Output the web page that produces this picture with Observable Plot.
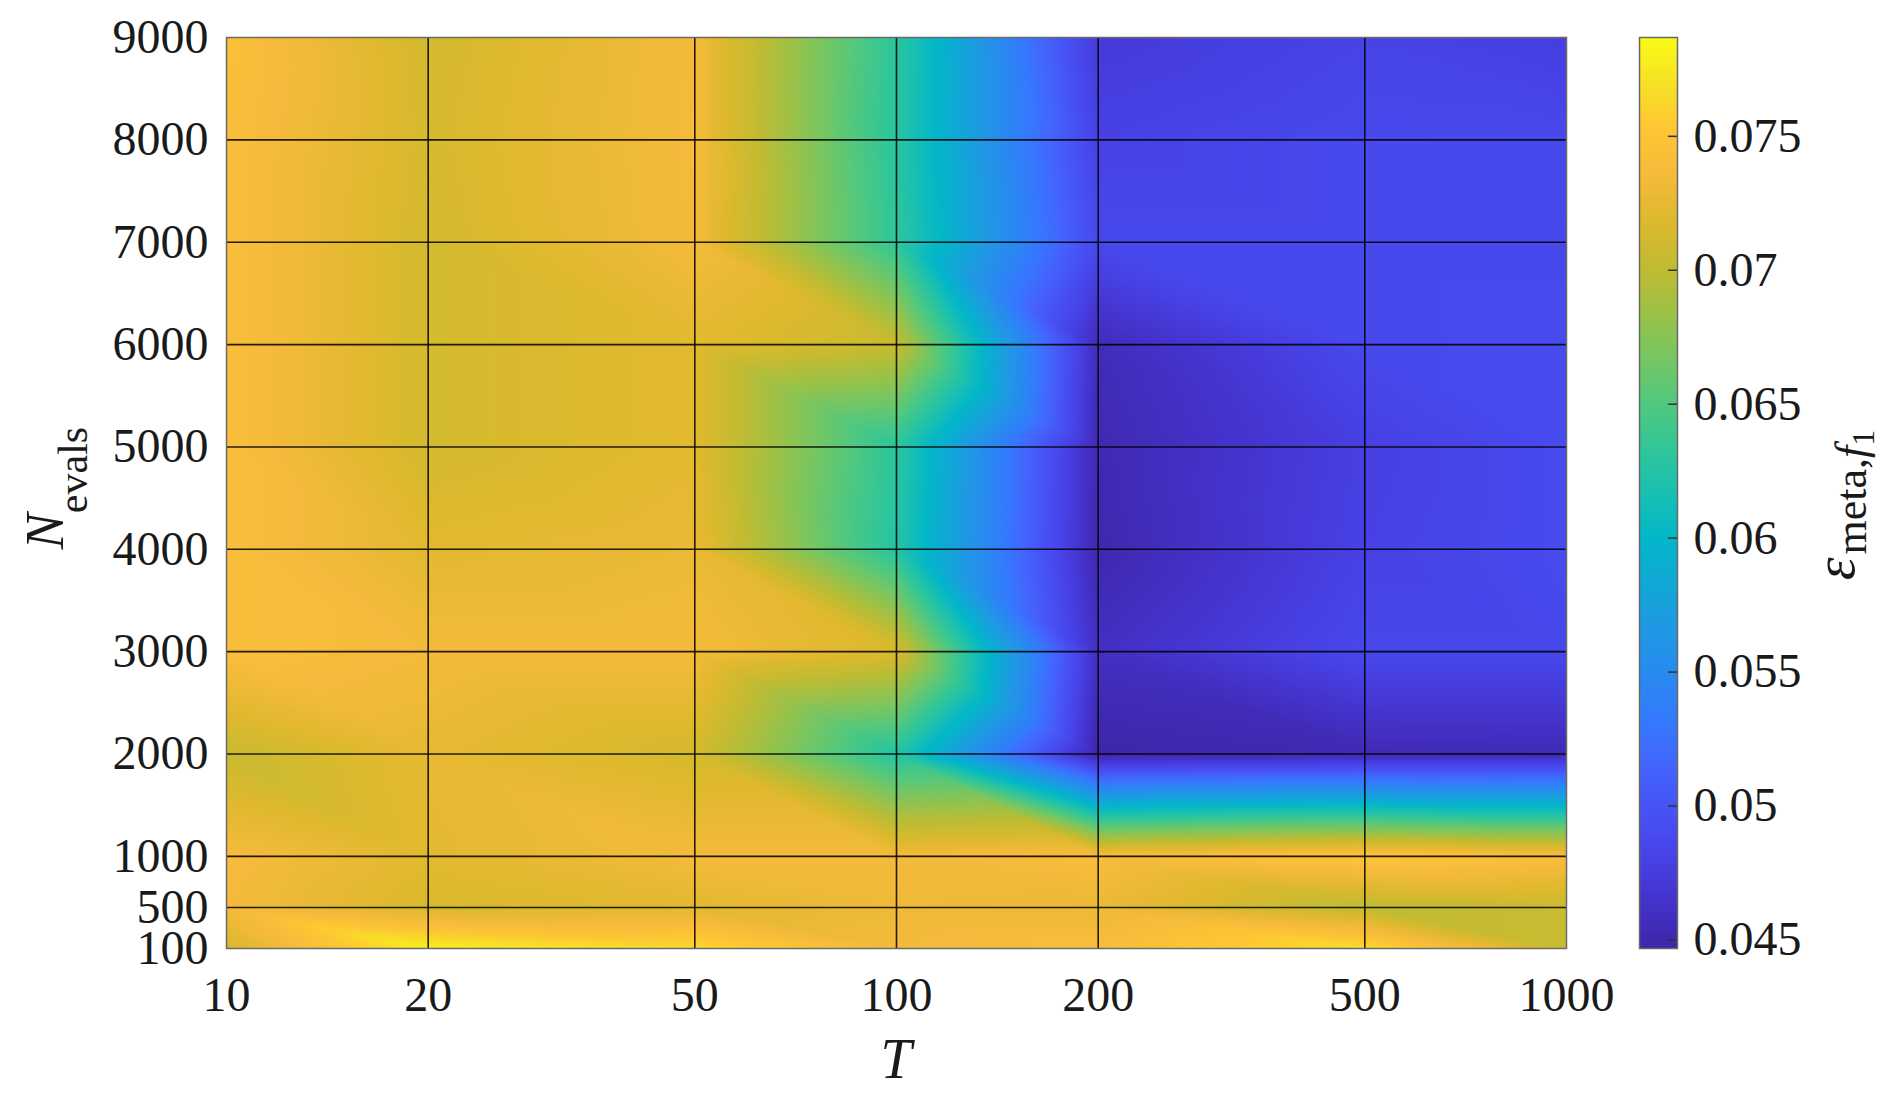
<!DOCTYPE html>
<html><head><meta charset="utf-8">
<script src="https://cdn.jsdelivr.net/npm/d3@7"></script>
<script src="https://cdn.jsdelivr.net/npm/@observablehq/plot@0.6"></script>
<style>
body{margin:0;background:#fff;}
#wrap{position:relative;width:1892px;height:1100px;overflow:hidden;background:#fff;}
#wrap svg{position:absolute;top:0;overflow:visible;}
</style></head><body><div id="wrap"></div>
<script>
// ---- data ----
const T = [10, 20, 50, 100, 200, 500, 1000];
const N = [100, 500, 1000, 2000, 3000, 4000, 5000, 6000, 7000, 8000, 9000];
const xTicks = [10, 20, 50, 100, 200, 500, 1000];
const yTicks = [100, 500, 1000, 2000, 3000, 4000, 5000, 6000, 7000, 8000, 9000];
const cbTicks = [0.045, 0.05, 0.055, 0.06, 0.065, 0.07, 0.075];
const cbDomain = [0.04468, 0.07869];
// error values, one row per N (bottom to top), columns follow T
const eps100  = [0.0715, 0.0780, 0.0765, 0.0735, 0.0742, 0.0768, 0.0705];
const eps500  = [0.0735, 0.0715, 0.0722, 0.0730, 0.0728, 0.0700, 0.0705];
const eps1000 = [0.0738, 0.0722, 0.0735, 0.0735, 0.0740, 0.0752, 0.0742];
const eps2000 = [0.0705, 0.0725, 0.0713, 0.0625, 0.0447, 0.0452, 0.0453];
const eps3000 = [0.0742, 0.0735, 0.0735, 0.0717, 0.0460, 0.0487, 0.0487];
const eps4000 = [0.0742, 0.0722, 0.0728, 0.0625, 0.0450, 0.0480, 0.0490];
const eps5000 = [0.0742, 0.0712, 0.0722, 0.0630, 0.0452, 0.0478, 0.0490];
const eps6000 = [0.0742, 0.0712, 0.0722, 0.0705, 0.0456, 0.0488, 0.0490];
const eps7000 = [0.0742, 0.0712, 0.0735, 0.0632, 0.0488, 0.0488, 0.0488];
const eps8000 = [0.0742, 0.0714, 0.0736, 0.0628, 0.0480, 0.0488, 0.0487];
const eps9000 = [0.0745, 0.0712, 0.0735, 0.0630, 0.0472, 0.0482, 0.0476];
const rows = [eps100, eps500, eps1000, eps2000, eps3000, eps4000, eps5000, eps6000, eps7000, eps8000, eps9000];

// parula-like colormap stops
const parula = ["#3e26a8","#4432ca","#4742e6","#4752f4","#4465fd","#347afd","#288af0","#2098e4","#10a8d6","#03b7c8",
  "#19c0b2","#32c698","#52c87e","#78c661","#9ec146","#c3bb32","#deb92d","#f6ba3c","#fec634","#f7e126","#f9fb15"];
const colorScale = {type: "linear", domain: cbDomain, interpolate: d3.piecewise(d3.interpolateRgb, parula), clamp: true};

// triangle (Gouraud-like) interpolation on the grid, in log-T / linear-N space
const LT = T.map(Math.log10);
function seg(arr, v) {
  let i = 0;
  while (i < arr.length - 2 && v > arr[i + 1]) i++;
  return i;
}
function interp(x, y) {
  const u = Math.log10(x);
  const i = seg(LT, u), j = seg(N, y);
  const s = Math.max(0, Math.min(1, (u - LT[i]) / (LT[i + 1] - LT[i])));
  const t = Math.max(0, Math.min(1, (y - N[j]) / (N[j + 1] - N[j])));
  const v00 = rows[j][i], v10 = rows[j][i + 1], v01 = rows[j + 1][i], v11 = rows[j + 1][i + 1];
  if (s + t <= 1) return v00 + s * (v10 - v00) + t * (v01 - v00);
  return v11 + (1 - s) * (v01 - v11) + (1 - t) * (v10 - v11);
}

const FONT = "'Liberation Serif', 'Times New Roman', serif";
const wrap = document.getElementById("wrap");

const main = Plot.plot({
  width: 1640, height: 1100,
  marginLeft: 226, marginRight: 74, marginTop: 37, marginBottom: 152,
  style: {fontFamily: FONT, fontSize: "48px", color: "#1a1a1a", background: "transparent", overflow: "visible"},
  x: {type: "log", domain: [10, 1000], label: null},
  y: {domain: [100, 9000], label: null},
  color: colorScale,
  marks: [
    Plot.raster({x1: 10, x2: 1000, y1: 100, y2: 9000, fill: (x, y) => interp(x, y)}),
    Plot.ruleX(T.slice(1, -1), {stroke: "#000", strokeWidth: 1.6, strokeOpacity: 0.85}),
    Plot.ruleY(N.slice(1, -1), {stroke: "#000", strokeWidth: 1.6, strokeOpacity: 0.85}),
    Plot.frame({stroke: "#6a6a6a", strokeWidth: 1.5}),
    Plot.axisX({ticks: xTicks, tickFormat: d => String(d), tickSize: 0, tickPadding: 28}),
    Plot.axisY({ticks: yTicks, tickFormat: d => String(d), tickSize: 0, tickPadding: 18})
  ]
});
main.style.left = "0px";
wrap.appendChild(main);

const cb = Plot.plot({
  width: 292, height: 1100,
  marginLeft: 39, marginRight: 215, marginTop: 37, marginBottom: 152,
  style: {fontFamily: FONT, fontSize: "48px", color: "#1a1a1a", background: "transparent", overflow: "visible"},
  x: {domain: [0, 1], axis: null},
  y: {domain: cbDomain, label: null},
  color: colorScale,
  marks: [
    Plot.raster({x1: 0, x2: 1, y1: cbDomain[0], y2: cbDomain[1], fill: (x, y) => y}),
    Plot.ruleY(cbTicks, {x1: 0.76, x2: 1, stroke: "#333", strokeWidth: 1.5}),
    Plot.frame({stroke: "#6a6a6a", strokeWidth: 1.5}),
    Plot.axisY({anchor: "right", ticks: cbTicks, tickFormat: d => d3.format("~g")(d), tickSize: 0, tickPadding: 16})
  ]
});
cb.style.left = "1600px";
wrap.appendChild(cb);

// axis titles
const ms = d3.select(main);
ms.append("text").attr("x", 896).attr("y", 1078).attr("text-anchor", "middle")
  .attr("font-family", FONT).attr("font-size", 56).attr("font-style", "italic").attr("fill", "#1a1a1a").text("T");
const yl = ms.append("text").attr("transform", "translate(63,488) rotate(-90)").attr("text-anchor", "middle")
  .attr("font-family", FONT).attr("fill", "#1a1a1a");
yl.append("tspan").attr("font-size", 54).attr("font-style", "italic").text("N");
yl.append("tspan").attr("font-size", 42).attr("dy", 24).text("evals");

const cs = d3.select(cb);
const cl = cs.append("text").attr("transform", "translate(254,505) rotate(-90)").attr("text-anchor", "middle")
  .attr("font-family", FONT).attr("fill", "#1a1a1a");
cl.append("tspan").attr("font-size", 58).attr("font-style", "italic").text("ε");
cl.append("tspan").attr("font-size", 44).attr("dy", 12).attr("dx", 3).text("meta,");
cl.append("tspan").attr("font-size", 44).attr("font-style", "italic").text("f");
cl.append("tspan").attr("font-size", 32).attr("dy", 8).text("1");
</script></body></html>
